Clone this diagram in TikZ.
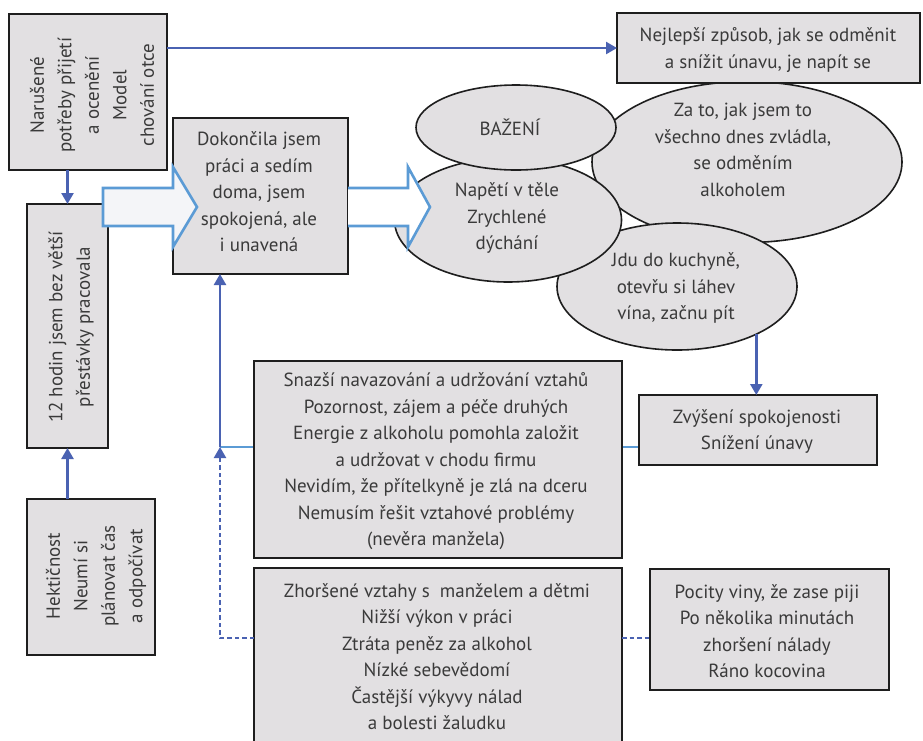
\documentclass[tikz,border=0pt]{standalone}
\usepackage{fontspec}
\setmainfont{PT Sans}
\usetikzlibrary{shapes.geometric,arrows.meta}
\definecolor{dblue}{RGB}{74,98,178}
\definecolor{lblue}{RGB}{91,155,213}
\definecolor{boxfill}{RGB}{226,224,226}
\definecolor{boxline}{RGB}{30,30,30}
\definecolor{textgray}{RGB}{58,58,58}
\definecolor{arrfill}{RGB}{244,245,248}
\pgfdeclarelayer{bg}
\pgfdeclarelayer{paper}
\pgfsetlayers{paper,bg,main}
\tikzset{
  box/.style={draw=boxline, line width=1.8pt, fill=boxfill, inner sep=0pt, outer sep=0pt},
  txt/.style={text=textgray, align=center, font=\fontsize{19}{26.5}\selectfont, inner sep=0pt},
  rtxt/.style={txt, rotate=90, font=\fontsize{19}{27.5}\selectfont},
  ell/.style={ellipse, draw=boxline, line width=1.6pt, fill=boxfill, inner sep=0pt, outer sep=0pt, text=textgray, align=center, font=\fontsize{19}{26.5}\selectfont},
  conn/.style={draw=dblue, line width=2.4pt, -{Triangle[length=11pt,width=12pt]}},
  lconn/.style={draw=lblue, line width=2.4pt},
  dotconn/.style={draw=dblue, line width=2.2pt, dash pattern=on 4.5pt off 3pt},
  blockarrow/.style={draw=lblue, line width=2.6pt, line join=miter}
}
\begin{document}
\begin{tikzpicture}[x=1pt,y=-1pt]
\useasboundingbox (0,0) rectangle (923,740);
\begin{pgfonlayer}{paper}
\fill[white] (0,0) rectangle (923,740);
\end{pgfonlayer}

% left column boxes
\node[box, minimum width=158pt, minimum height=156pt] (A) at (88,92) {};
\node[rtxt] (At) at (92,95) {Narušené\\potřeby přijetí\\a ocenění\\Model\\chování otce};

\node[box, minimum width=81pt, minimum height=244pt] (C) at (67.5,326) {};
\node[rtxt] (Ct) at (71,327) {12 hodin jsem bez větší\\přestávky pracovala};

\node[box, minimum width=128pt, minimum height=156pt] (D) at (91,577) {};
\node[rtxt] (Dt) at (96,576) {Hektičnost\\Neumí si\\plánovat čas\\a odpočívat};

% central box
\node[box, minimum width=175pt, minimum height=156pt] (E) at (260.5,196) {};
\node[txt] (Et) at (259,192) {Dokončila jsem\\práci a sedím\\doma, jsem\\spokojená, ale\\i unavená};

% ellipses
\node[ell, minimum width=310pt, minimum height=161pt] (Za) at (747,162) {};
\node[txt] (Zat) at (743,150) {Za to, jak jsem to\\všechno dnes zvládla,\\se odměním\\alkoholem};
\node[ell, minimum width=240pt, minimum height=127pt] (Jdu) at (677,286.5) {};
\node[txt] (Jdut) at (676,288) {Jdu do kuchyně,\\otevřu si láhev\\vína, začnu pít};
\node[ell, minimum width=227pt, minimum height=124pt] (Nap) at (508,220) {};
\node[txt] (Napt) at (507,218) {Napětí v těle\\Zrychlené\\dýchání};
\node[ell, minimum width=200pt, minimum height=85pt] (Baz) at (516,127.5) {};
\node[txt] (Bazt) at (510,127.5) {BAŽENÍ};

% top right box
\node[box, minimum width=303pt, minimum height=70pt] (B) at (768.5,48) {};
\node[txt] (Bt) at (768,50) {Nejlepší způsob, jak se odměnit\\a snížit únavu, je napít se};

% right boxes
\node[box, minimum width=238pt, minimum height=70pt] (F) at (758,430) {};
\node[txt] (Ft) at (757,431.5) {Zvýšení spokojenosti\\Snížení únavy};

\node[box, minimum width=368pt, minimum height=197pt] (G) at (438,459.5) {};
\node[txt] (Gt) at (436,461.5) {Snazší navazování a udržování vztahů\\Pozornost, zájem a péče druhých\\Energie z alkoholu pomohla založit\\a udržovat v chodu firmu\\Nevidím, že přítelkyně je zlá na dceru\\Nemusím řešit vztahové problémy\\(nevěra manžela)};

\node[box, minimum width=368pt, minimum height=176pt] (H) at (438,656) {};
\node[txt] (Ht) at (437,656.5) {Zhoršené vztahy s~ manželem a dětmi\\Nižší výkon v práci\\Ztráta peněz za alkohol\\Nízké sebevědomí\\Častější výkyvy nálad\\a bolesti žaludku};

\node[box, minimum width=239pt, minimum height=121pt] (I) at (769.5,629.5) {};
\node[txt] (It) at (767,631) {Pocity viny, že zase piji\\Po několika minutách\\zhoršení nálady\\Ráno kocovina};

% block arrows
\draw[blockarrow, fill=arrfill] (103,188) -- (173,188) -- (173,167) -- (197,207) -- (173,247) -- (173,226) -- (103,226) -- cycle;
\draw[blockarrow, fill=white] (E.east |- 0,188) -- (408,188) -- (408,167) -- (430,207) -- (408,247) -- (408,226) -- (E.east |- 0,226);

% connectors
\coordinate (j1) at (220,447);
\coordinate (j2) at (220,638);
\draw[conn] (A.east |- B.west) -- (B.west);
\draw[conn] (C.north |- A.south) -- (C.north);
\draw[conn] (C.south |- D.north) -- (C.south);
\draw[conn] (Jdu.-31) -- (Jdu.-31 |- F.north);
\begin{pgfonlayer}{bg}
\draw[lconn] (F.west |- j1) -- (j1);
\end{pgfonlayer}
\draw[conn] (j1) -- (j1 |- E.south);
\draw[dotconn, -{Triangle[length=11pt,width=12pt]}] (H.west |- j2) -- (j2) -- (j1);
\draw[dotconn] (H.east |- j2) -- (I.west |- j2);
\end{tikzpicture}
\end{document}
